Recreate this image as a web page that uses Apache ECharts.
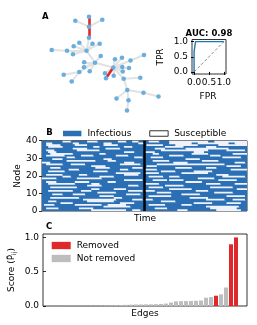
<!DOCTYPE html>
<html><head><meta charset="utf-8">
<script src="https://cdn.jsdelivr.net/npm/echarts@6/dist/echarts.min.js"></script>
<style>html,body{margin:0;padding:0;background:#fff}#c{width:257px;height:325px}</style>
</head><body><div id="c"></div>
<script>
// ---------- Panel A: network (layout coordinates) ----------
const nodeX = [89,75.3,102.3,89,89,79.3,73.7,92.5,99.7,51.7,67,86.5,73,100.7,84.2,95,84,79.3,89.7,63.7,71.7,113.3,115,122,130.5,144,122.3,129,105,106,113.7,122.7,123.7,140.3,127.3,143.5,158.5,116.5,128.5,127];
const nodeY = [16.7,20.7,19.7,26.7,37.7,42.7,46.3,43.7,43.7,50,50.7,50.7,54.3,56,62.3,62.7,67.3,72,71.3,74.7,81.5,67.5,59.3,57.7,60.5,55,67,68,73.3,78.3,75.7,71.5,78.7,77.7,90,92.7,96.5,98.5,100.3,110.5];
const grayEdges = [[1,3],[2,3],[4,11],[5,11],[6,11],[7,11],[8,11],[9,10],[10,11],[12,11],[11,15],[13,15],[14,15],[16,15],[17,15],[18,15],[19,17],[20,17],[15,21],[22,21],[23,21],[24,21],[25,24],[26,21],[27,21],[28,21],[30,21],[31,21],[32,21],[33,32],[34,32],[35,34],[36,35],[37,34],[38,34],[39,38]];
const removedEdges = [[0,3],[3,4],[21,29]];

// ---------- ROC inset ----------
const rocFPR = [0,0,0.05,0.05,1];
const rocTPR = [0,0.67,0.67,1,1];
const aucText = 'AUC: 0.98';

// ---------- Panel B: node states; susceptible runs [start,end) per node, time 0..49 and 50..99 ----------
const T_HALF = 50;
const nodeTicks = [0,10,20,30,40];
const suscLeft = [
 [[24,41],[44,48]],            // node 0
 [[2,8],[18,25]],
 [[30,43]],
 [[1,6],[16,29],[32,41]],
 [[9,15],[38,45]],
 [[3,7],[22,35]],
 [[20,36],[44,49]],
 [[4,18],[35,39]],
 [[28,35]],
 [[5,10],[15,21],[41,48]],
 [[27,36]],                    // node 10
 [[3,15],[19,24],[42,49]],
 [[24,28],[35,41]],
 [[4,17]],
 [[22,29],[42,47]],
 [[3,16],[24,28]],
 [[2,7],[16,23],[32,36]],
 [[40,49]],
 [[0,7],[17,29]],
 [[10,14],[28,35]],
 [[2,10],[18,22],[40,47]],     // node 20
 [[36,48]],
 [[3,11],[25,32]],
 [[13,18],[38,42]],
 [[4,9],[26,33],[44,49]],
 [[24,31]],
 [[2,10],[14,21],[38,48]],
 [[0,4],[40,45]],
 [[12,26],[32,36]],
 [[5,10],[30,34]],
 [[12,16],[45,49]],            // node 30
 [[2,11],[19,25],[36,42]],
 [[4,15],[28,31]],
 [[3,7],[40,45]],
 [[2,6],[17,28]],
 [[15,22],[31,38]],
 [[3,10],[25,28],[40,44]],
 [[2,9],[16,22],[30,37]],
 [[2,5],[15,18],[30,34],[47,50]],
 [[10,14],[22,27],[37,41],[44,47]]  // node 39
];
const suscRight = [
 [[16,21],[35,47]],            // node 0
 [[5,11],[32,45]],
 [[30,46]],
 [[2,10],[18,23]],
 [[24,33],[40,47]],
 [[8,15]],
 [[0,4],[30,39],[43,49]],
 [[22,31]],
 [[2,13],[40,49]],
 [[18,27]],
 [[6,13],[34,43]],             // node 10
 [[0,5],[25,31]],
 [[12,23],[45,50]],
 [[2,9],[32,43]],
 [[10,19]],
 [[0,7],[30,37],[44,50]],
 [[20,28]],
 [[4,11],[12,19],[36,45]],
 [[26,34]],
 [[2,9],[12,17],[38,49]],
 [[35,41]],                    // node 20
 [[0,7],[18,31]],
 [[8,15],[24,33]],
 [[0,6],[42,50]],
 [[15,23],[30,35]],
 [[1,6],[40,47]],
 [[6,39]],
 [[14,21],[44,49]],
 [[4,12],[28,36]],
 [[20,27]],
 [[3,9],[38,47]],              // node 30
 [[12,19],[32,37]],
 [[4,7],[23,31],[43,50]],
 [[0,5],[24,29]],
 [[8,31],[40,49]],
 [[5,10],[20,41]],
 [[10,19],[30,35]],
 [[1,9],[15,26],[36,50]],
 [[12,23],[26,41],[44,50]],
 [[2,7],[12,31],[34,50]]       // node 39
];

// ---------- Panel C: edge scores, sorted ----------
const edgeScores = [0.003,0.003,0.003,0.003,0.003,0.003,0.004,0.004,0.004,0.005,0.005,0.006,0.008,0.01,0.012,0.015,0.017,0.02,0.022,0.023,0.024,0.025,0.027,0.03,0.035,0.05,0.068,0.07,0.072,0.074,0.076,0.08,0.12,0.13,0.15,0.17,0.27,0.9,1.0];
const removedIdx = [34,37,38];
const scoreTicks = [0,0.5,1];
const rocTicks = [0,0.5,1];

// ---------- build ----------
const BLUE = '#2b6fb4', LIGHT = '#eef3fb', RED = '#e0282a', GRAYBAR = '#bdbdbd', EDGE = '#e2e2e2';
const FONT = 'DejaVu Sans';

const nodes = nodeX.map((x,i)=>[x,nodeY[i]]);
const links = grayEdges.map(e=>({source:e[0],target:e[1],lineStyle:{color:EDGE,width:2,opacity:1}}))
  .concat(removedEdges.map(e=>({source:e[0],target:e[1],lineStyle:{color:RED,width:2.6,opacity:1}})));

// cells: [tStart, tEnd, node, state(1=infectious,0=susceptible)], ordered by node then time
const cells = [];
for (let n=0;n<40;n++){
  [[suscLeft,0],[suscRight,T_HALF]].forEach(([src,off])=>{
    const rs = src[n].slice().sort((a,b)=>a[0]-b[0]);
    let t = 0;
    rs.forEach(r=>{
      if (r[0]>t) cells.push([off+t, off+r[0], n, 1]);
      cells.push([off+r[0], off+Math.min(r[1],T_HALF), n, 0]);
      t = Math.min(r[1],T_HALF);
    });
    if (t<T_HALF) cells.push([off+t, off+T_HALF, n, 1]);
  });
}

function cellRender(params, api){
  const a = api.coord([api.value(0), api.value(2)+1]);
  const b = api.coord([api.value(1), api.value(2)]);
  const color = api.value(3) ? BLUE : LIGHT;
  // extend 1px up/right so later-drawn neighbours cover the seam
  return {type:'rect', shape:{x:a[0], y:a[1]-1, width:b[0]-a[0]+1, height:b[1]-a[1]+1},
    style:{fill:color}};
}

const removedData = [], keptData = [];
edgeScores.forEach((v,i)=>{ (removedIdx.includes(i)?removedData:keptData).push([i,v]); });

const tickDark = {show:true, length:3, lineStyle:{color:'#000', width:0.8}};
const lbl = {color:'#000', fontSize:9, fontFamily:FONT};

const option = {
  animation:false,
  textStyle:{fontFamily:FONT},
  grid:[
    {left:40, top:10, width:130, height:105},
    {left:192, top:39.5, width:34, height:34.5, show:true, borderColor:'#333', borderWidth:1, backgroundColor:'transparent'},
    {left:42, top:140.7, width:205, height:70.3, show:true, borderColor:'#000', borderWidth:0.8, backgroundColor:'transparent'},
    {left:43, top:234, width:204, height:72, show:true, borderColor:'#000', borderWidth:0.8}
  ],
  xAxis:[
    {gridIndex:0, type:'value', min:40, max:170, show:false},
    {gridIndex:1, type:'value', min:-0.07, max:1.07, axisLine:{show:false}, splitLine:{show:false},
      axisTick:{show:true, length:3, lineStyle:{color:'#000'}, customValues:rocTicks},
      axisLabel:{color:'#000', fontSize:9, margin:4, customValues:rocTicks, formatter:v=>v.toFixed(1)}},
    {gridIndex:2, type:'value', min:0, max:2*T_HALF, axisLine:{show:false}, axisTick:{show:false}, axisLabel:{show:false}, splitLine:{show:false}},
    {gridIndex:3, type:'value', min:-0.6, max:40.2, axisLine:{show:false}, axisTick:{show:false}, axisLabel:{show:false}, splitLine:{show:false}}
  ],
  yAxis:[
    {gridIndex:0, type:'value', min:10, max:115, inverse:true, show:false},
    {gridIndex:1, type:'value', min:-0.07, max:1.07, axisLine:{show:false}, splitLine:{show:false},
      axisTick:{show:true, length:3, lineStyle:{color:'#000'}, customValues:rocTicks},
      axisLabel:{color:'#000', fontSize:9, margin:4, customValues:rocTicks, formatter:v=>v.toFixed(1)}},
    {gridIndex:2, type:'value', min:nodeTicks[0], max:nodeTicks[nodeTicks.length-1], interval:10, axisLine:{show:false}, splitLine:{show:false},
      axisTick:tickDark, axisLabel:Object.assign({margin:4.5}, lbl)},
    {gridIndex:3, type:'value', min:0, max:1.05, axisLine:{show:false}, splitLine:{show:false},
      axisTick:Object.assign({customValues:scoreTicks}, tickDark),
      axisLabel:Object.assign({margin:4, customValues:scoreTicks, formatter:v=>v.toFixed(1)}, lbl)}
  ],
  legend:[
    {left:63, top:129, padding:0, itemWidth:18.4, itemHeight:5.5, itemGap:18, selectedMode:false,
      textStyle:{fontSize:9, color:'#000', padding:[0,0,0,1]},
      data:[{name:'Infectious', icon:'rect', itemStyle:{color:BLUE}}, {name:'Susceptible', icon:'rect', itemStyle:{color:'#fff', borderColor:'#000', borderWidth:0.8}}]},
    {left:51.7, top:241, orient:'vertical', padding:0, itemWidth:19, itemHeight:7.3, itemGap:4, selectedMode:false,
      textStyle:{fontSize:9, color:'#000', padding:[0,0,0,1]},
      data:[{name:'Removed', icon:'rect'}, {name:'Not removed', icon:'rect'}]}
  ],
  series:[
    {type:'graph', coordinateSystem:'cartesian2d', xAxisIndex:0, yAxisIndex:0, data:nodes, links:links,
      symbolSize:4.6, itemStyle:{color:'#69aedc'}, lineStyle:{color:EDGE, width:2, opacity:1},
      emphasis:{disabled:true}, label:{show:false}, silent:true},
    {type:'line', xAxisIndex:1, yAxisIndex:1, data:[[0,0],[1,1]], symbol:'none', lineStyle:{color:'#888', width:1, type:[3,2]}},
    {type:'line', xAxisIndex:1, yAxisIndex:1, data:rocFPR.map((x,i)=>[x,rocTPR[i]]), symbol:'none', lineStyle:{color:'#1f77b4', width:1.4}},
    {type:'custom', xAxisIndex:2, yAxisIndex:2, data:cells, renderItem:cellRender, clip:true, encode:{x:[0,1], y:2}, silent:true,
      markLine:{silent:true, symbol:'none', label:{show:false}, lineStyle:{color:'#000', width:2.5, type:'solid'}, data:[{xAxis:T_HALF}]}},
    {name:'Infectious', type:'custom', xAxisIndex:2, yAxisIndex:2, data:[], renderItem:()=>null, itemStyle:{color:BLUE}},
    {name:'Susceptible', type:'custom', xAxisIndex:2, yAxisIndex:2, data:[], renderItem:()=>null, itemStyle:{color:LIGHT}},
    {name:'Not removed', type:'bar', xAxisIndex:3, yAxisIndex:3, data:keptData, barWidth:4, barGap:'-100%', itemStyle:{color:GRAYBAR}},
    {name:'Removed', type:'bar', xAxisIndex:3, yAxisIndex:3, data:removedData, barWidth:4, barGap:'-100%', itemStyle:{color:RED}}
  ],
  graphic:[
    {type:'text', left:42, top:12.5, style:{text:'A', font:'bold 8.5px "DejaVu Sans"', fill:'#000'}},
    {type:'text', left:46.3, top:128.5, style:{text:'B', font:'bold 8.5px "DejaVu Sans"', fill:'#000'}},
    {type:'text', left:46, top:222.5, style:{text:'C', font:'bold 8.5px "DejaVu Sans"', fill:'#000'}},
    {type:'text', x:209, y:34, style:{text:aucText, font:'bold 8.5px "DejaVu Sans"', fill:'#000', align:'center', verticalAlign:'middle'}},
    {type:'text', x:208, y:97, style:{text:'FPR', font:'9px "DejaVu Sans"', fill:'#000', align:'center', verticalAlign:'middle'}},
    {type:'text', x:161, y:57, rotation:Math.PI/2, style:{text:'TPR', font:'9px "DejaVu Sans"', fill:'#000', align:'center', verticalAlign:'middle'}},
    {type:'text', x:145, y:219, style:{text:'Time', font:'9px "DejaVu Sans"', fill:'#000', align:'center', verticalAlign:'middle'}},
    {type:'text', x:18, y:176, rotation:Math.PI/2, style:{text:'Node', font:'9px "DejaVu Sans"', fill:'#000', align:'center', verticalAlign:'middle'}},
    {type:'text', x:145, y:313.5, style:{text:'Edges', font:'9px "DejaVu Sans"', fill:'#000', align:'center', verticalAlign:'middle'}},
    {type:'text', x:12, y:270, rotation:Math.PI/2, style:{
      text:'Score ({p|P\u0302}{s|ij})', font:'9px "DejaVu Sans"', fill:'#000', align:'center', verticalAlign:'middle',
      rich:{p:{fontSize:9, fontFamily:FONT, fill:'#000'}, s:{fontSize:6, fontFamily:FONT, fill:'#000', verticalAlign:'bottom', padding:[4,0,0,0]}}}}
  ]
};
const chart = echarts.init(document.getElementById('c'), null, {renderer:'canvas'});
chart.setOption(option);
</script></body></html>
